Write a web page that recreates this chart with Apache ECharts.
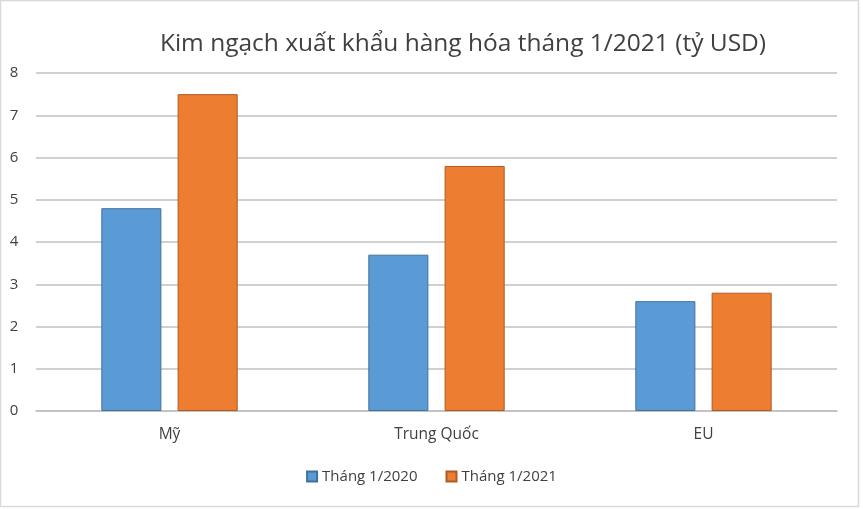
<!DOCTYPE html>
<html><head><meta charset="utf-8">
<script src="https://cdn.jsdelivr.net/npm/echarts@6/dist/echarts.min.js"></script>
<style>html,body{margin:0;padding:0;background:#fff}#c{width:863px;height:509px}</style>
</head><body><div id="c"></div>
<script>
const categories = ['Mỹ', 'Trung Quốc', 'EU'];
const series2020 = [4.8, 3.7, 2.6];
const series2021 = [7.5, 5.8, 2.8];
const seriesNames = ['Tháng 1/2020', 'Tháng 1/2021'];
const titleText = 'Kim ngạch xuất khẩu hàng hóa tháng 1/2021 (tỷ USD)';

const font = 'Open Sans';
const chart = echarts.init(document.getElementById('c'), null, {renderer: 'canvas'});
chart.setOption({
  backgroundColor: '#fff',
  animation: false,
  textStyle: {fontFamily: font},
  title: {
    text: titleText, left: 458, top: 27, textAlign: 'center',
    textStyle: {fontFamily: font, fontSize: 24.5, fontWeight: 'normal', color: '#404040'}
  },
  legend: {
    bottom: 20, left: 'center', itemWidth: 10, itemHeight: 10, itemGap: 28,
    icon: 'rect',
    textStyle: {fontFamily: font, fontSize: 15, color: '#404040'}
  },
  grid: {left: 36, right: 26, top: 73, bottom: 98, containLabel: false},
  xAxis: {
    type: 'category', data: categories,
    axisLine: {lineStyle: {color: '#bfbfbf', width: 1.5}},
    axisTick: {show: false},
    axisLabel: {fontFamily: font, fontSize: 15.5, color: '#404040', margin: 16}
  },
  yAxis: {
    type: 'value', min: 0, max: 8, interval: 1,
    axisLine: {show: false}, axisTick: {show: false},
    splitLine: {lineStyle: {color: '#d0d0d0', width: 2}},
    axisLabel: {fontFamily: font, fontSize: 15, color: '#404040', margin: 22, align: 'center'}
  },
  series: [
    {name: seriesNames[0], type: 'bar', data: series2020, barWidth: '22.5%', barGap: '27%',
     itemStyle: {color: '#5b9bd5', borderColor: '#41719c', borderWidth: 1}},
    {name: seriesNames[1], type: 'bar', data: series2021, barWidth: '22.5%', barGap: '27%',
     itemStyle: {color: '#ed7d31', borderColor: '#ae5a21', borderWidth: 1}}
  ],
  graphic: [
    {type: 'rect', shape: {x: 0.5, y: 0.5, width: 858, height: 506},
     style: {fill: 'none', stroke: '#d9d9d9', lineWidth: 1.5}, silent: true}
  ]
});
</script></body></html>
